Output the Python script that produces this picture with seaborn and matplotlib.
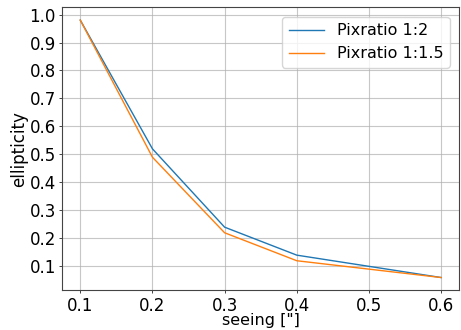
import matplotlib
matplotlib.use("Agg")
import matplotlib.pyplot as plt
import seaborn as sns
import pandas as pd

seeing = [0.1, 0.2, 0.3, 0.4, 0.5, 0.6]
ell_1_2 = [0.98, 0.52, 0.24, 0.14, 0.10, 0.06]
ell_1_15 = [0.98, 0.49, 0.22, 0.12, 0.09, 0.06]
labels = ["Pixratio 1:2", "Pixratio 1:1.5"]

plt.rcParams['font.family'] = 'sans-serif'
plt.rcParams['font.sans-serif'] = ['DejaVu Sans']

df = pd.DataFrame({
    "seeing": seeing * 2,
    "ellipticity": ell_1_2 + ell_1_15,
    "series": [labels[0]] * len(seeing) + [labels[1]] * len(seeing),
})

fig, ax = plt.subplots(figsize=(4.61, 3.30), dpi=100)
sns.lineplot(data=df, x="seeing", y="ellipticity", hue="series",
             palette=["#1f77b4", "#ff7f0e"], linewidth=1.0, ax=ax)
ax.grid(True, color="#b0b0b0", linewidth=0.8, alpha=0.7)
ax.set_xticks(seeing)
ax.set_yticks([0.1, 0.2, 0.3, 0.4, 0.5, 0.6, 0.7, 0.8, 0.9, 1.0])
ax.tick_params(labelsize=12, length=2.5, width=0.7, pad=2.0, color="#444444")
ax.set_xlabel('seeing ["]', fontsize=11.5, labelpad=-1)
ax.set_ylabel('ellipticity', fontsize=12, labelpad=1)
for s in ax.spines.values():
    s.set_color("#444444")
    s.set_linewidth(0.8)
ax.legend(title=None, fontsize=11.5, loc="upper right", handlelength=2.2,
          borderaxespad=0.6)
fig.subplots_adjust(left=0.135, right=0.996, top=0.978, bottom=0.12)
fig.savefig("out.png", dpi=100)
